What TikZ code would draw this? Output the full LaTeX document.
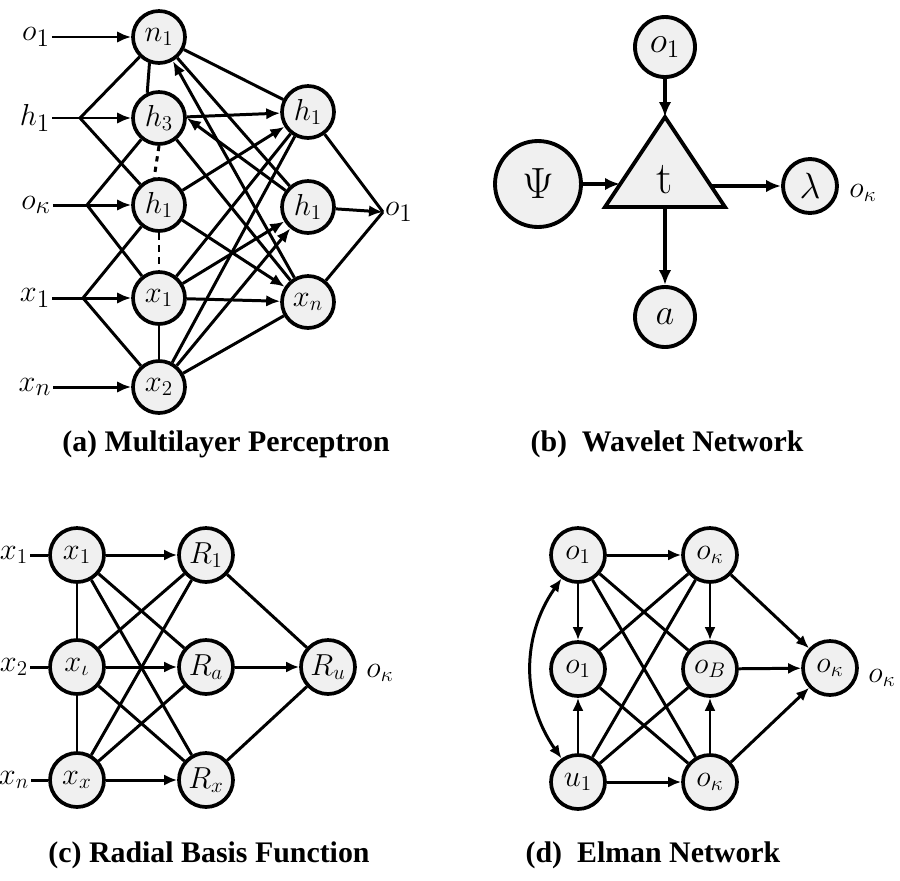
\documentclass[tikz,border=0pt]{standalone}
\usepackage{amsmath}
\usepackage{fontspec}
\newfontfamily\capfont{Liberation Serif}
\usepackage{tikz}
\usetikzlibrary{arrows.meta}
\definecolor{nodefill}{RGB}{240,240,240}
\tikzset{
    % Multilayer perceptron
    mnode/.style={circle, draw, line width=2.1pt, fill=nodefill, minimum size=1.04cm,
                inner sep=0pt, font=\fontsize{17}{17}\selectfont},
    mlbl/.style={inner sep=1pt, font=\fontsize{19}{19}\selectfont},
    mline/.style={line width=1.7pt},
    marrow/.style={-{Latex[length=2.8mm, width=2.3mm]}, line width=1.7pt},
    mback/.style={{Latex[length=2.8mm, width=2.3mm]}-, line width=1.7pt},
    % Wavelet network
    wnode/.style={circle, draw, line width=2.2pt, fill=nodefill, minimum size=1.2cm,
                inner sep=0pt, font=\fontsize{20}{20}\selectfont},
    wtri/.style={draw, line width=2.2pt, fill=nodefill, line join=miter},
    warrow/.style={-{Latex[length=3mm, width=2.5mm]}, line width=1.8pt},
    wlbl/.style={font=\fontsize{17}{17}\selectfont},
    % Radial basis function
    rnode/.style={circle, draw, line width=2.1pt, fill=nodefill, minimum size=1.08cm,
                inner sep=0pt, font=\fontsize{17}{17}\selectfont},
    rlbl/.style={inner sep=1pt, font=\fontsize{18}{18}\selectfont},
    rline/.style={line width=1.7pt},
    rarrow/.style={-{Latex[length=2.6mm, width=2.2mm]}, line width=1.7pt},
    % Elman network
    enode/.style={circle, draw, line width=2.1pt, fill=nodefill, minimum size=1.08cm,
                inner sep=0pt, font=\fontsize{17}{17}\selectfont},
    earrow/.style={-{Latex[length=2.6mm, width=2.2mm]}, line width=1.7pt},
    ebiarrow/.style={{Latex[length=2.6mm, width=2.2mm]}-{Latex[length=2.6mm, width=2.2mm]}, line width=1.7pt},
    eline/.style={line width=1.7pt},
    % Captions
    caplbl/.style={font=\capfont\bfseries\fontsize{17}{20}\selectfont},
}

\begin{document}
\begin{tikzpicture}[x=0.02cm, y=-0.02cm]
\useasboundingbox (0,0) rectangle (900,880);
% (a)
\node[mnode] (n1) at (159,37)  {$n_1$};
\node[mnode] (h3) at (159,118) {$h_3$};
\node[mnode] (ha) at (159,205) {$h_1$};
\node[mnode] (xa) at (159,298) {$x_1$};
\node[mnode] (xb) at (159,387) {$x_2$};
\node[mnode] (hb) at (308,112) {$h_1$};
\node[mnode] (hc) at (308,207) {$h_1$};
\node[mnode] (xn) at (308,302) {$x_n$};
\node[mlbl] (ia) at (36,37)  {$o_1$};
\node[mlbl] (ib) at (35,118) {$h_1$};
\node[mlbl] (ic) at (36,205) {$o_\kappa$};
\node[mlbl] (id) at (35,298) {$x_1$};
\node[mlbl] (ie) at (35,387) {$x_n$};
\node[mlbl, anchor=west] (out) at (383,212) {$o_1$};
\coordinate (bb) at (80,118);
\coordinate (bc) at (87,205);
\coordinate (bd) at (83,298);
\draw[marrow] (ia) -- (n1);
\draw[marrow] (ib) -- (h3);
\draw[marrow] (ic) -- (ha);
\draw[marrow] (id) -- (xa);
\draw[marrow] (ie) -- (xb);
\draw[mline] (bb) -- (n1);
\draw[mline] (bb) -- (ha);
\draw[mline] (bc) -- (h3);
\draw[mline] (bc) -- (xa);
\draw[mline] (bd) -- (ha);
\draw[mline] (bd) -- (xb);
\draw[mline] (n1.250) -- (h3.115);
\draw[mline, dash pattern=on 3pt off 3pt] (h3.south) -- (ha.100);
\draw[mline, dash pattern=on 4pt off 3pt] (ha) -- (xa);
\draw[mline] (xa) -- (xb);
\draw[mline] (n1) -- (hb);
\draw[mline] (n1) -- (hc);
\draw[mback] (n1.300) -- (xn);
\draw[marrow] (h3) -- (hb);
\draw[mback] (h3.east) -- (hc);
\draw[mline] (h3) -- (xn);
\draw[marrow] (ha) -- (hb);
\draw[marrow] (ha) -- (xn);
\draw[mline] (xa) -- (hb);
\draw[marrow] (xa) -- (hc);
\draw[marrow] (xa) -- (xn);
\draw[mline] (xb) -- (hb);
\draw[marrow] (xb) -- (hc);
\draw[mline] (xb) -- (xn);
\draw[mline] (hb) -- (out.west);
\draw[marrow] (hc) -- (out.west);
\draw[mline] (xn) -- (out.west);
\node[caplbl] (capa) at (226,444) {(a) Multilayer Perceptron};
% (b)
\node[wnode] (wo) at (665,47) {$o_1$};
\node[wnode, minimum size=1.72cm, font=\fontsize{30}{30}\selectfont] (psi) at (538,184) {$\Psi$};
\node[wnode, minimum size=1.08cm, font=\fontsize{22}{22}\selectfont] (lam) at (810,186) {$\lambda$};
\node[wnode] (wa) at (665,317) {$a$};
\draw[wtri] (665,117) coordinate (tapex) -- (725,207) -- (605,207) -- cycle;
\node[font=\fontsize{26}{26}\selectfont] (tt) at (665,180) {t};
\coordinate (tleft) at (620,184);
\coordinate (tright) at (711,186);
\coordinate (tbot) at (665,207);
\draw[warrow] (wo) -- (tapex);
\draw[warrow] (psi) -- (tleft);
\draw[warrow] (tright) -- (lam);
\draw[warrow] (tbot) -- (wa);
\node[wlbl] (wout) at (863,193) {$o_\kappa$};
\node[caplbl] (capb) at (667,444) {(b)\ \ Wavelet Network};
% (c)
\node[rnode] (cx1) at (77,555) {$x_1$};
\node[rnode] (cx2) at (77,667) {$x_\iota$};
\node[rnode] (cx3) at (77,780) {$x_x$};
\node[rnode] (r1) at (206,555) {$R_1$};
\node[rnode] (ra) at (206,667) {$R_a$};
\node[rnode] (rx) at (206,780) {$R_x$};
\node[rnode] (ru) at (328,667) {$R_u$};
\node[rlbl] (cl1) at (14,555) {$x_1$};
\node[rlbl] (cl2) at (14,667) {$x_2$};
\node[rlbl] (cl3) at (14,780) {$x_n$};
\node[wlbl] (cout) at (380,673) {$o_\kappa$};
\draw[rline] (cl1) -- (cx1);
\draw[rline] (cl2) -- (cx2);
\draw[rline] (cl3) -- (cx3);
\draw[rline] (cx1) -- (cx2);
\draw[rline] (cx2) -- (cx3);
\draw[rarrow] (cx1) -- (r1);
\draw[rarrow] (cx2) -- (ra);
\draw[rarrow] (cx3) -- (rx);
\draw[rline] (cx1) -- (ra);
\draw[rline] (cx1) -- (rx);
\draw[rline] (cx2) -- (r1);
\draw[rline] (cx2) -- (rx);
\draw[rline] (cx3) -- (r1);
\draw[rline] (cx3) -- (ra);
\draw[rline] (r1) -- (ru);
\draw[rarrow] (ra) -- (ru);
\draw[rline] (rx) -- (ru);
\node[caplbl] (capc) at (209,855) {(c) Radial Basis Function};
% (d)
\node[enode] (e1) at (578,555) {$o_1$};
\node[enode] (e2) at (710,555) {$o_\kappa$};
\node[enode] (e3) at (578,669) {$o_1$};
\node[enode] (e4) at (710,669) {$o_B$};
\node[enode] (e5) at (578,782) {$u_1$};
\node[enode] (e6) at (710,782) {$o_\kappa$};
\node[enode] (e7) at (830,668) {$o_\kappa$};
\node[wlbl] (eout) at (882,678) {$o_\kappa$};
\draw[earrow] (e1) -- (e2);
\draw[earrow] (e1) -- (e3);
\draw[earrow] (e5) -- (e3);
\draw[earrow] (e5) -- (e6);
\draw[earrow] (e2) -- (e4);
\draw[earrow] (e6) -- (e4);
\draw[earrow] (e4) -- (e7);
\draw[earrow] (e2) -- (e7);
\draw[earrow] (e6) -- (e7);
\draw[eline] (e1) -- (e4);
\draw[eline] (e1) -- (e6);
\draw[eline] (e3) -- (e2);
\draw[eline] (e3) -- (e6);
\draw[eline] (e5) -- (e2);
\draw[eline] (e5) -- (e4);
\draw[ebiarrow] (e1.235) to[bend right=35] (e5.125);
\node[caplbl] (capd) at (653,855) {(d)\ \ Elman Network};
\end{tikzpicture}
\end{document}
